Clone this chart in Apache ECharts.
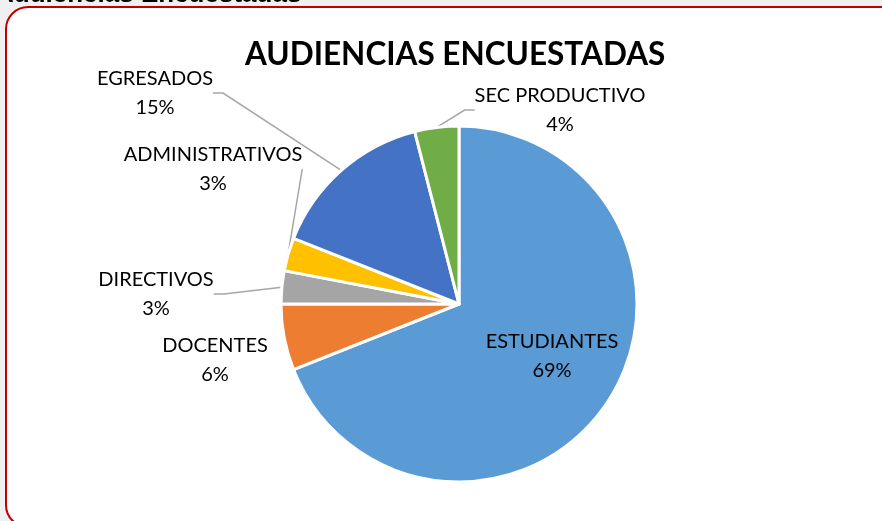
<!DOCTYPE html>
<html>
<head>
<meta charset="utf-8">
<script src="https://cdn.jsdelivr.net/npm/echarts@6/dist/echarts.min.js"></script>
<style>
  html, body { margin: 0; padding: 0; background: #f0f0f0; }
  #chart { width: 882px; height: 521px; }
</style>
</head>
<body>
<div id="chart"></div>
<script>
const categories = ['ESTUDIANTES', 'DOCENTES', 'DIRECTIVOS', 'ADMINISTRATIVOS', 'EGRESADOS', 'SEC PRODUCTIVO'];
const values = [69, 6, 3, 3, 15, 4];
const colors = ['#5b9bd5', '#ed7d31', '#a5a5a5', '#ffc000', '#4472c4', '#70ad47'];
const chartTitle = 'AUDIENCIAS ENCUESTADAS';
const headerText = 'Audiencias Encuestadas';

// label block centres (layout only)
const labelPlaces = {
  'ESTUDIANTES': [552, 356],
  'DOCENTES': [215, 360],
  'DIRECTIVOS': [156, 294],
  'ADMINISTRATIVOS': [213, 169],
  'EGRESADOS': [155, 93],
  'SEC PRODUCTIVO': [560, 110]
};

const FONT = 'Lato, "Open Sans", sans-serif';
const chart = echarts.init(document.getElementById('chart'), null, { renderer: 'canvas' });

const data = categories.map((c, i) => {
  const item = { name: c, value: values[i], itemStyle: { color: colors[i] } };
  if (c === 'ESTUDIANTES') {
    item.label = { position: 'inside' };
    item.labelLine = { show: false };
  }
  if (c === 'DOCENTES') {
    item.labelLine = { show: false };
  }
  if (c === 'ADMINISTRATIVOS') {
    item.labelLine = { length2: 0 };
  }
  return item;
});

chart.setOption({
  backgroundColor: '#f0f0f0',
  animation: false,
  graphic: [
    {
      type: 'rect', z: -10,
      shape: { x: 6, y: 7, width: 900, height: 520, r: 22 },
      style: { fill: '#ffffff', stroke: '#c00000', lineWidth: 2 }
    },
    {
      type: 'text', z: -5,
      style: {
        x: -5, y: 8, text: headerText, fill: '#000000',
        font: 'bold 26px Arial, "Liberation Sans", sans-serif',
        verticalAlign: 'bottom'
      }
    }
  ],
  title: {
    text: chartTitle,
    left: 240, top: 34,
    textStyle: { fontFamily: FONT, fontWeight: 'bold', fontSize: 31.5, color: '#000000' }
  },
  series: [{
    type: 'pie',
    center: [459, 304],
    radius: 178,
    startAngle: 90,
    clockwise: true,
    data: data,
    itemStyle: { borderColor: '#ffffff', borderWidth: 3 },
    label: {
      show: true,
      position: 'outside',
      formatter: '{b}\n{d}%',
      fontFamily: FONT,
      fontSize: 20,
      lineHeight: 29,
      color: '#000000',
      align: 'center'
    },
    labelLine: {
      show: true,
      length: 20, length2: 10,
      lineStyle: { color: '#a6a6a6', width: 1.5 }
    },
    labelLayout: function (params) {
      const name = categories[params.dataIndex];
      const p = labelPlaces[name];
      return { x: p[0], y: p[1], align: 'center', verticalAlign: 'middle' };
    }
  }]
});
</script>
</body>
</html>
